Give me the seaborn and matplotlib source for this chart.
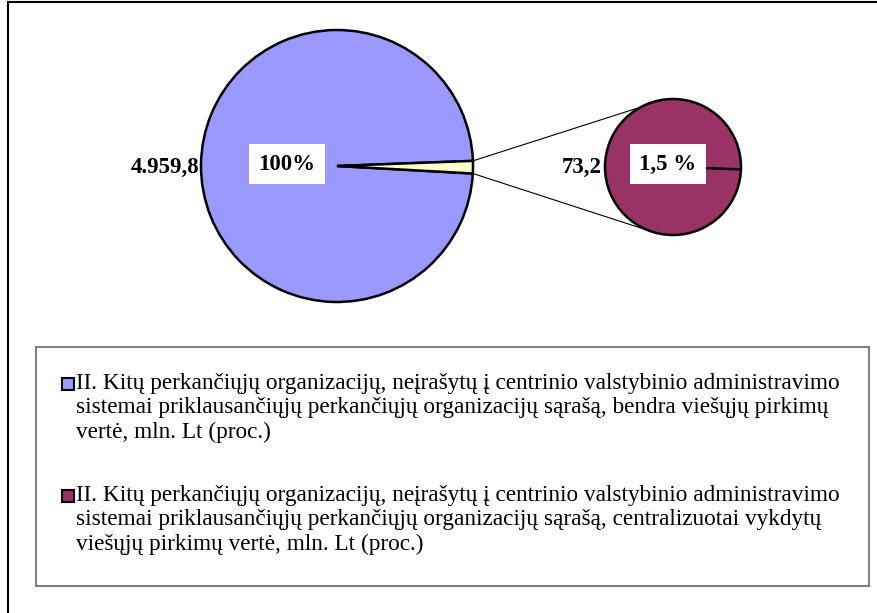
import matplotlib
matplotlib.use("Agg")
import matplotlib.pyplot as plt
import matplotlib.patches as mpatches
import numpy as np
import seaborn as sns

# data
total_value = 4959.8          # mln. Lt, all purchases
central_value = 73.2          # mln. Lt, centralised purchases
total_pct_label = "100%"
central_pct_label = "1,5 %"
legend_labels = [
    "II. Kitų perkančiųjų organizacijų, neįrašytų į centrinio valstybinio administravimo\n"
    "sistemai priklausančiųjų perkančiųjų organizacijų sąrašą, bendra viešųjų pirkimų\n"
    "vertė, mln. Lt (proc.)",
    "II. Kitų perkančiųjų organizacijų, neįrašytų į centrinio valstybinio administravimo\n"
    "sistemai priklausančiųjų perkančiųjų organizacijų sąrašą, centralizuotai vykdytų\n"
    "viešųjų pirkimų vertė, mln. Lt (proc.)",
]
colors = ["#9999FF", "#993366"]
slice_color = "#FFFFCC"


def lt_fmt(v):
    # 4959.8 -> 4.959,8
    s = f"{v:,.1f}"
    return s.replace(",", " ").replace(".", ",").replace(" ", ".")


sns.set_theme(style="white")
plt.rcParams["font.family"] = ["Liberation Serif", "DejaVu Serif"]

W, H = 877, 613
fig = plt.figure(figsize=(W / 100, H / 100), dpi=100)
ax = fig.add_axes([0, 0, 1, 1])

# big pie
big_c, big_r = (337, 447), 136
frac = central_value / total_value
wedges, _ = ax.pie([total_value - central_value, central_value],
                   colors=[colors[0], slice_color], center=big_c, radius=big_r,
                   startangle=180 * frac - 0.5, counterclock=True,
                   wedgeprops=dict(edgecolor="black", linewidth=1.8))

# small pie
small_c, small_r = (673, 446), 68
sw, _ = ax.pie([central_value], colors=[colors[1]], center=small_c, radius=small_r,
               startangle=-2, wedgeprops=dict(edgecolor="black", linewidth=1.8))
t0 = np.deg2rad(sw[0].theta1)
ax.plot([small_c[0], small_c[0] + small_r * np.cos(t0)],
        [small_c[1], small_c[1] + small_r * np.sin(t0)], color="black", lw=1.8)

# connectors
ys = wedges[1]
for ang_big, ang_small in [(ys.theta2, 118), (ys.theta1, -107)]:
    a, b = np.deg2rad(ang_big), np.deg2rad(ang_small)
    ax.plot([big_c[0] + big_r * np.cos(a), small_c[0] + small_r * np.cos(b)],
            [big_c[1] + big_r * np.sin(a), small_c[1] + small_r * np.sin(b)],
            color="black", lw=0.8)

lab = dict(fontsize=16.5, fontweight="bold", color="black")
box = dict(boxstyle="square,pad=0.42", facecolor="white", edgecolor="none")
ax.text(199, 446, lt_fmt(total_value), ha="right", va="center", **lab)
ax.text(287, 449, total_pct_label, ha="center", va="center", bbox=box, **lab)
ax.text(602, 446, lt_fmt(central_value), ha="right", va="center", **lab)
ax.text(668, 449, central_pct_label, ha="center", va="center", bbox=box, **lab)

# outer frame (only left and top visible)
ax.add_patch(mpatches.Rectangle((8, -20), 900, 631, fill=False, edgecolor="black",
                                lw=1.5, clip_on=False))

# legend box
ax.add_patch(mpatches.Rectangle((36, 27), 833, 239, facecolor="white",
                                edgecolor="#808080", lw=1.5))
for i, (lbl, col) in enumerate(zip(legend_labels, colors)):
    ytop = 235 - i * 112
    ax.add_patch(mpatches.Rectangle((62, ytop - 12), 12, 12, facecolor=col,
                                    edgecolor="black", lw=1.5))
    ax.text(76, ytop - 6 - 24, lbl, ha="left", va="center", fontsize=16.75,
            linespacing=1.2, color="black")

ax.set_xlim(0, W)
ax.set_ylim(0, H)
ax.set_aspect("equal")
ax.axis("off")
fig.savefig("out.png", dpi=100, facecolor="white")
